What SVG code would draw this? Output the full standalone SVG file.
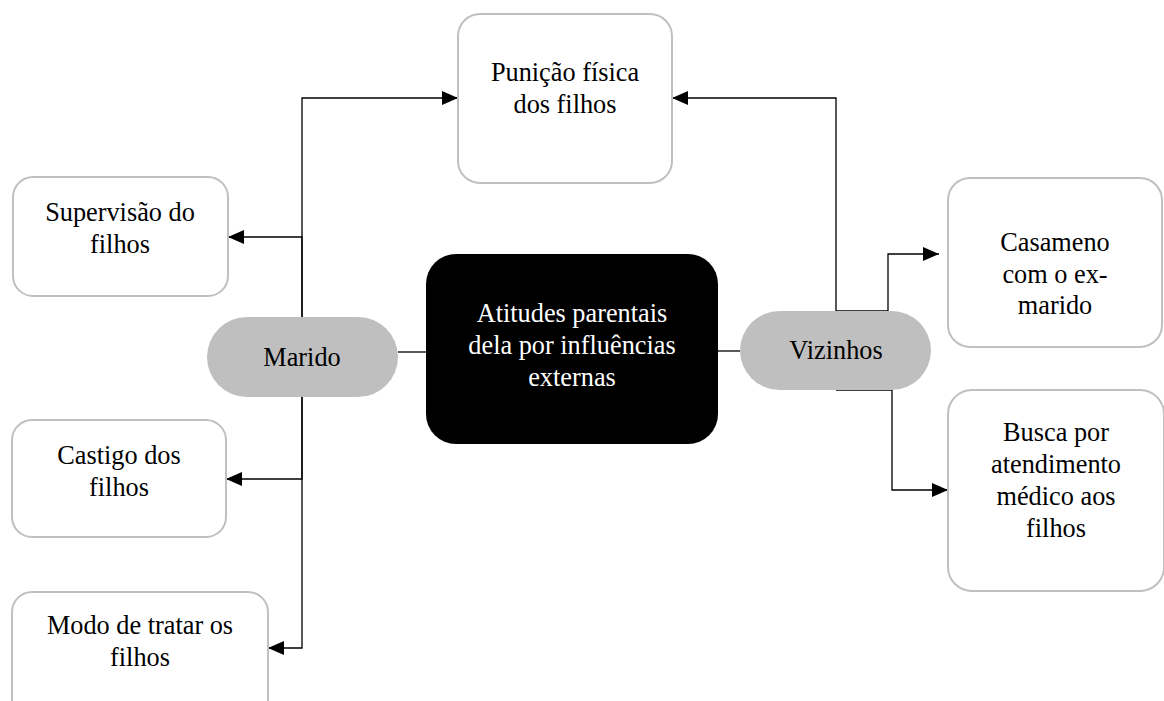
<svg xmlns="http://www.w3.org/2000/svg" width="1164" height="701" viewBox="0 0 1164 701">
<style>
.box{fill:#fff;stroke:#c0c0c0;stroke-width:2}
.pill{fill:#bfbfbf}
.center{fill:#000}
.c{fill:none;stroke:#000;stroke-width:1.3}
text{font-family:"Liberation Serif","Times New Roman",serif;font-size:26.3px;text-anchor:middle;fill:#000}
.w{fill:#fff}
</style>
<defs>
<marker id="ah" markerWidth="16" markerHeight="14" refX="16" refY="7" orient="auto" markerUnits="userSpaceOnUse">
<path d="M0,0 L16,7 L0,14 Z" fill="#000"/>
</marker>
</defs>
<rect width="1164" height="701" fill="#fff"/>
<g id="connectors">
<path class="c" d="M302,317 V98 H458" marker-end="url(#ah)"/>
<path class="c" d="M302,317 V237 H228" marker-end="url(#ah)"/>
<path class="c" d="M302,397 V479 H226" marker-end="url(#ah)"/>
<path class="c" d="M302,397 V648 H268" marker-end="url(#ah)"/>
<path class="c" d="M398,352 H426"/>
<path class="c" d="M718,351 H740"/>
<path class="c" d="M836,311 V98 H672" marker-end="url(#ah)"/>
<path class="c" d="M836,311 H888 V254 H939" marker-end="url(#ah)"/>
<path class="c" d="M836,390 H892 V490 H948" marker-end="url(#ah)"/>
</g>
<g id="n-punicao">
<rect class="box" x="458" y="14" width="214" height="169" rx="22"/>
<text x="565" y="81">Punição física</text>
<text x="565" y="113">dos filhos</text>
</g>
<g id="n-supervisao">
<rect class="box" x="13" y="177" width="215" height="119" rx="20"/>
<text x="120" y="221">Supervisão do</text>
<text x="120" y="253">filhos</text>
</g>
<g id="n-marido">
<rect class="pill" x="207" y="317" width="191" height="80" rx="40"/>
<text x="302" y="366">Marido</text>
</g>
<g id="n-central">
<rect class="center" x="426" y="254" width="292" height="190" rx="30"/>
<text class="w" x="572" y="322">Atitudes parentais</text>
<text class="w" x="572" y="354">dela por influências</text>
<text class="w" x="572" y="386">externas</text>
</g>
<g id="n-vizinhos">
<rect class="pill" x="740" y="311" width="191" height="79" rx="39.5"/>
<text x="836" y="359">Vizinhos</text>
</g>
<g id="n-casameno">
<rect class="box" x="948" y="178" width="214" height="169" rx="22"/>
<text x="1055" y="251">Casameno</text>
<text x="1055" y="283">com o ex-</text>
<text x="1055" y="314">marido</text>
</g>
<g id="n-busca">
<rect class="box" x="948" y="390" width="216" height="201" rx="24"/>
<text x="1056" y="441">Busca por</text>
<text x="1056" y="473">atendimento</text>
<text x="1056" y="505">médico aos</text>
<text x="1056" y="537">filhos</text>
</g>
<g id="n-castigo">
<rect class="box" x="12" y="420" width="214" height="117" rx="20"/>
<text x="119" y="464">Castigo dos</text>
<text x="119" y="496">filhos</text>
</g>
<g id="n-modo">
<rect class="box" x="12" y="592" width="256" height="130" rx="20"/>
<text x="140" y="634">Modo de tratar os</text>
<text x="140" y="666">filhos</text>
</g>
</svg>
